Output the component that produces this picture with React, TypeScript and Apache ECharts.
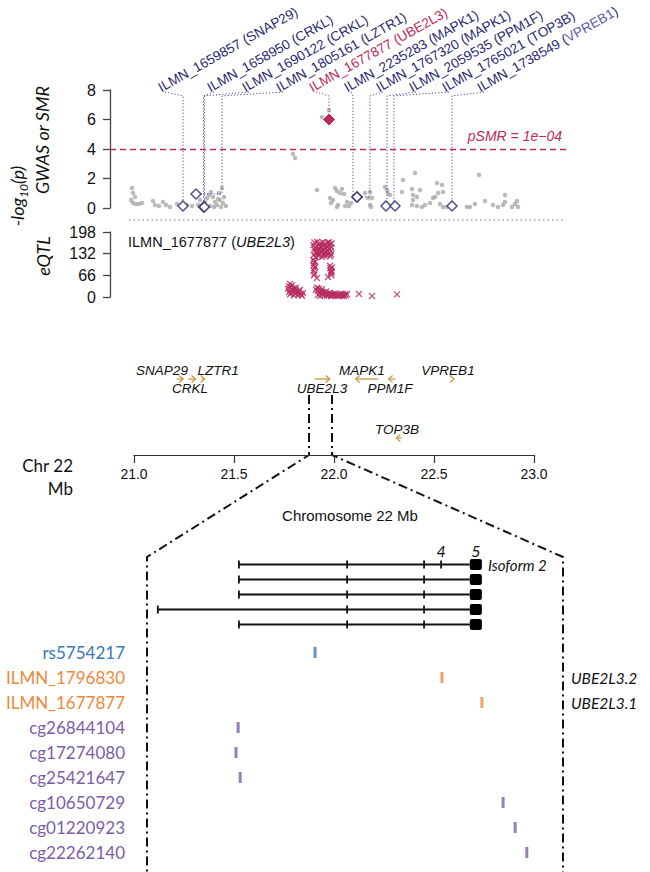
import React, { useEffect, useRef } from 'react';
import * as echarts from 'echarts';

const SANS = '"Liberation Sans", Arial, Helvetica, sans-serif';
const HUM = 'Lato, "Open Sans", sans-serif';
const NAVY = '#2a2970';
const CRIMSON = '#bb2a5a';
const GRAY = '#a9a9a9';
const GOLD = '#c99a45';

// ---------------- GWAS (-log10 p) points [Mb, value] ----------------
const gwasPoints: number[][] = [
  [20.99, 1.36], [20.995, 1.02], [21.005, 0.75], [20.985, 0.54], [20.995, 0.34], [21.01, 0.27], [21.025, 0.27], [21.04, 0.34],
  [21.095, 0.47], [21.105, 0.2], [21.125, 0.14], [21.145, 0.41], [21.16, 0.2], [21.18, 0.07], [21.215, 0.27],
  [21.265, 0.2], [21.29, 0.14], [21.32, 0.2], [21.33, 0.54], [21.34, 0.14], [21.355, 0.41], [21.365, 0.68], [21.375, 0.88],
  [21.385, 1.08], [21.395, 0.75], [21.405, 0.41], [21.415, 0.2], [21.425, 1.02], [21.43, 0.54], [21.435, 0.07], [21.44, 1.36],
  [21.445, 0.34], [21.46, 0.14], [21.38, 0.14], [21.4, 0.07], [21.42, 0.61], [21.45, 0.75],
  [21.795, 3.66], [21.805, 3.39], [21.94, 6.17], [21.975, 6.64], [21.915, 1.22],
  [21.98, 0.68], [21.985, 0.34], [21.995, 0.54], [22.005, 1.36], [22.015, 1.15], [22.03, 1.02], [22.04, 1.29], [22.05, 0.95],
  [22.015, 0.07], [22.065, 0.41], [22.075, 0.14], [22.085, 0.34], [22.055, 0.14], [22.02, 0.2],
  [22.155, 1.02], [22.17, 0.68], [22.18, 1.08], [22.19, 0.68], [22.185, 0.07], [22.18, 0.2],
  [22.255, 1.42], [22.265, 1.22], [22.27, 1.02], [22.28, 0.88], [22.345, 1.9], [22.34, 1.08], [22.405, 2.37], [22.39, 1.29],
  [22.395, 0.88], [22.415, 0.75], [22.43, 1.22], [22.395, 0.54], [22.39, 0.2], [22.415, 0.14], [22.44, 0.07], [22.455, 0.2],
  [22.48, 0.34], [22.495, 0.68], [22.505, 0.75], [22.515, 1.69], [22.52, 1.02], [22.54, 1.56], [22.545, 1.08], [22.53, 0.27],
  [22.545, 0.07], [22.565, 0.07], [22.665, 0.07], [22.68, 0.07], [22.705, 0.27], [22.725, 2.24], [22.755, 0.47], [22.795, 0.2],
  [22.82, 0.07], [22.845, 0.2], [22.855, 0.88], [22.855, 0.41], [22.89, 0.07], [22.905, 0.27], [22.915, 0.47], [22.92, 0.07],
];

// ---------------- SMR probes ----------------
const probeIds = ['ILMN_1659857', 'ILMN_1658950', 'ILMN_1690122', 'ILMN_1805161', 'ILMN_1677877',
  'ILMN_2235283', 'ILMN_1767320', 'ILMN_2059535', 'ILMN_1765021', 'ILMN_1738549'];
const probeGenes = ['SNAP29', 'CRKL', 'CRKL', 'LZTR1', 'UBE2L3', 'MAPK1', 'MAPK1', 'PPM1F', 'TOP3B', 'VPREB1'];
const probePos = [21.245, 21.348, 21.352, 21.31, 21.975, 22.115, 22.115, 22.26, 22.305, 22.59];
const probeSMR = [0.14, 0.07, 0.07, 0.95, 6.0, 0.75, 0.75, 0.14, 0.14, 0.14];
const probeLinePos = [21.245, 21.348, 21.352, 21.44, 21.975, 22.095, 22.18, 22.265, 22.3, 22.59];
const probeLabelPos = [21.15, 21.395, 21.57, 21.74, 21.905, 22.08, 22.24, 22.405, 22.57, 22.745];
const topProbe = 'ILMN_1677877';
const smrThreshold = 4; // -log10(1e-04)

// ---------------- eQTL (-log10 p) for ILMN_1677877 [Mb, value] ----------------
const eqtlPoints: number[][] = [
  [21.77, 25], [21.775, 33], [21.78, 40], [21.785, 30], [21.79, 22], [21.775, 15], [21.785, 12], [21.795, 18], [21.8, 26],
  [21.805, 10], [21.81, 20], [21.815, 14], [21.82, 6], [21.825, 16], [21.83, 22], [21.835, 9], [21.84, 4], [21.845, 12],
  [21.78, 8], [21.8, 5], [21.79, 36], [21.81, 28],
  [21.897, 158], [21.899, 128], [21.902, 166], [21.905, 143], [21.908, 121], [21.911, 152], [21.913, 134], [21.916, 168],
  [21.919, 140], [21.921, 125], [21.924, 160], [21.927, 147], [21.929, 131], [21.932, 164], [21.935, 153], [21.937, 138],
  [21.94, 122], [21.943, 167], [21.946, 145], [21.948, 130], [21.951, 157], [21.954, 136], [21.957, 162], [21.959, 149],
  [21.962, 127], [21.965, 141], [21.968, 165], [21.97, 154], [21.973, 133], [21.976, 146], [21.979, 160], [21.981, 124],
  [21.984, 139], [21.987, 151], [21.988, 163], [21.903, 150], [21.93, 155], [21.96, 136], [21.92, 132], [21.95, 126],
  [21.975, 167], [21.91, 137], [21.94, 143], [21.985, 130],
  [21.897, 112], [21.9, 104], [21.898, 96], [21.902, 88], [21.899, 80], [21.903, 72], [21.9, 66], [21.905, 108], [21.907, 92],
  [21.915, 58], [21.97, 61], [21.985, 73],
  [21.98, 95], [21.982, 88], [21.985, 80], [21.987, 66], [21.99, 90], [21.988, 76],
  [21.91, 22], [21.915, 28], [21.92, 18], [21.925, 25], [21.93, 12], [21.935, 20], [21.94, 8], [21.945, 15], [21.95, 5],
  [21.955, 12], [21.96, 9], [21.965, 4], [21.97, 10], [21.975, 6], [21.98, 12], [21.985, 3], [21.99, 8], [21.995, 5],
  [22.0, 10], [22.005, 4], [22.01, 9], [22.015, 6], [22.02, 3], [22.025, 8], [22.03, 5], [22.035, 10], [22.04, 4],
  [22.045, 7], [22.05, 3], [22.055, 8], [22.06, 5], [22.065, 9], [21.92, 7], [21.94, 24], [21.96, 17], [21.93, 3],
  [22.125, 9], [22.19, 3], [22.315, 8],
];
const eqtlProbe = 'ILMN_1677877';
const eqtlGene = 'UBE2L3';

// ---------------- genes (Mb) ----------------
const geneNames = ['SNAP29', 'CRKL', 'LZTR1', 'UBE2L3', 'MAPK1', 'PPM1F', 'TOP3B', 'VPREB1'];
const geneStart = [21.2133, 21.2717, 21.3366, 21.9037, 22.1088, 22.2731, 22.3114, 22.5991];
const geneEnd = [21.2455, 21.308, 21.3533, 21.9783, 22.222, 22.3072, 22.3383, 22.5998];
const geneStrand = [1, 1, 1, 1, -1, -1, -1, 1];
const geneRow = [0, 0, 0, 0, 0, 0, 1, 0];
const geneLabelPos = [21.14, 21.28, 21.42, 21.94, 22.14, 22.28, 22.315, 22.57];
const geneLabelSide = ['above', 'below', 'above', 'below', 'above', 'below', 'above', 'above'];
const zoomRegion = [21.875, 21.99];

// ---------------- UBE2L3 zoom (relative kb) ----------------
const isoformStart = [22.1, 22.1, 22.1, 2.6, 22.1];
const isoformExonTicks = [[48.1, 66.6, 70.7], [48.1, 66.6], [48.1, 66.6], [48.1, 66.6], [48.1, 66.6]];
const lastExon = [77.6, 80.5];
const isoformLabel = 'Isoform 2';
const exonNumbers = ['4', '5'];
const exonNumberPos = [70.7, 79.05];

const markerNames = ['rs5754217', 'ILMN_1796830', 'ILMN_1677877', 'cg26844104', 'cg17274080', 'cg25421647',
  'cg10650729', 'cg01220923', 'cg22262140'];
const markerPos = [40.4, 70.9, 80.5, 21.9, 21.4, 22.4, 85.6, 88.5, 91.3];
const markerType = ['snp', 'probe', 'probe', 'cpg', 'cpg', 'cpg', 'cpg', 'cpg', 'cpg'];
const markerTranscript = ['', 'UBE2L3.2', 'UBE2L3.1', '', '', '', '', '', ''];
const typeColor: Record<string, string> = { snp: '#3b78b5', probe: '#f0883a', cpg: '#7b5ea7' };

export default function App() {
  const ref = useRef<HTMLDivElement>(null);
  useEffect(() => {
    if (!ref.current) return;
    const chart = echarts.init(ref.current, null, { renderer: 'svg' });
    const hidden = { show: false };
    const yTick = {
      axisLine: { show: true, onZero: false, lineStyle: { color: '#444', width: 1.3 } },
      axisTick: { show: true, length: 7, lineStyle: { color: '#444', width: 1.3 } },
      axisLabel: { color: '#111', fontSize: 16, fontFamily: SANS, margin: 14 },
      splitLine: { show: false },
    };
    const option: any = {
      animation: false,
      grid: [
        { left: 110, top: 90, width: 458, height: 118 },
        { left: 110, top: 232, width: 458, height: 65 },
        { left: 134, top: 360, width: 400, height: 95 },
        { left: 147, top: 557, width: 416, height: 75 },
        { left: 147, top: 640, width: 416, height: 225 },
      ],
      xAxis: [
        { gridIndex: 0, type: 'value', min: 20.88, max: 23.17, ...hidden },
        { gridIndex: 1, type: 'value', min: 20.88, max: 23.17, ...hidden },
        {
          gridIndex: 2, type: 'value', min: 21, max: 23, interval: 0.5, position: 'bottom',
          axisLine: { show: true, onZero: false, lineStyle: { color: '#333', width: 1.2 } },
          axisTick: { show: true, length: 8, lineStyle: { color: '#333', width: 1.2 } },
          axisLabel: { color: '#111', fontSize: 14, fontFamily: SANS, margin: 12, formatter: (v: number) => v.toFixed(1) },
          splitLine: { show: false },
          name: 'Chromosome 22 Mb', nameLocation: 'middle', nameGap: 53,
          nameTextStyle: { color: '#111', fontSize: 15, fontFamily: SANS, padding: [0, 0, 0, 32] },
        },
        { gridIndex: 3, type: 'value', min: 0, max: 100, ...hidden },
        { gridIndex: 4, type: 'value', min: 0, max: 100, ...hidden },
      ],
      yAxis: [
        { gridIndex: 0, type: 'value', min: 0, max: 8, interval: 2, ...yTick },
        { gridIndex: 1, type: 'value', min: 0, max: 198, interval: 66, ...yTick },
        { gridIndex: 2, type: 'value', min: -0.322, max: 1.288, inverse: true, ...hidden },
        { gridIndex: 3, type: 'value', min: -0.5, max: 4.5, inverse: true, ...hidden },
        {
          gridIndex: 4, type: 'category', data: markerNames, inverse: true, position: 'left',
          axisLine: { show: false }, axisTick: { show: false }, splitLine: { show: false },
          axisLabel: {
            margin: 22, fontSize: 17, fontFamily: HUM,
            color: (v: string) => typeColor[markerType[markerNames.indexOf(v)]] || '#333',
          },
        },
        {
          gridIndex: 4, type: 'category', data: markerNames, inverse: true, position: 'right',
          axisLine: { show: false }, axisTick: { show: false }, splitLine: { show: false },
          axisLabel: {
            margin: 8, fontSize: 15.5, fontFamily: HUM, fontStyle: 'italic', color: '#111',
            formatter: (v: string) => markerTranscript[markerNames.indexOf(v)] || '',
          },
        },
      ],
      series: [
        {
          type: 'scatter', xAxisIndex: 0, yAxisIndex: 0, data: gwasPoints, symbol: 'circle', symbolSize: 4.5,
          itemStyle: { color: GRAY }, z: 2, silent: true,
          markLine: {
            silent: true, symbol: 'none', data: [{ yAxis: smrThreshold }],
            lineStyle: { color: CRIMSON, type: [6, 4], width: 1.3 },
            label: {
              show: true, position: 'insideEndTop', formatter: 'pSMR = 1e\u221204', color: CRIMSON,
              fontStyle: 'italic', fontSize: 14, fontFamily: SANS, distance: 6,
            },
          },
        },
        {
          type: 'custom', xAxisIndex: 0, yAxisIndex: 0, z: 3, silent: true,
          data: probeIds.map((_, i) => [probePos[i], probeSMR[i]]),
          renderItem: (params: any, api: any) => {
            const i = params.dataIndex;
            const [lx, ly] = api.coord([probeLabelPos[i], 8.0]);
            const [vx, vy] = api.coord([probeLinePos[i], 7.6]);
            const [bx, by] = api.coord([probeLinePos[i], probeSMR[i]]);
            const [dx, dy] = api.coord([probePos[i], probeSMR[i]]);
            const isTop = probeIds[i] === topProbe;
            const col = isTop ? CRIMSON : NAVY;
            const geneCol = isTop ? CRIMSON : probeGenes[i] === 'VPREB1' ? '#5b5ba6' : NAVY;
            return {
              type: 'group',
              children: [
                {
                  type: 'polyline',
                  shape: { points: [[lx + 1, ly + 2], [vx, vy], [bx, by], [dx, dy]] },
                  style: { stroke: isTop ? CRIMSON : '#4a4a98', lineWidth: 1, lineDash: [1.2, 2], fill: 'none' },
                },
                {
                  type: 'text', x: lx - 1, y: ly + 5, rotation: (29.5 * Math.PI) / 180,
                  style: {
                    text: `{a|${probeIds[i]} (}{g|${probeGenes[i]}}{a|)}`,
                    rich: {
                      a: { fill: col, fontSize: 13.6, fontFamily: SANS, lineHeight: 15 },
                      g: { fill: geneCol, fontSize: 13.6, fontFamily: SANS, lineHeight: 15 },
                    },
                    align: 'left', verticalAlign: 'bottom', textAlign: 'left', textVerticalAlign: 'bottom',
                  },
                },
              ],
            };
          },
        },
        {
          type: 'scatter', xAxisIndex: 0, yAxisIndex: 0, symbol: 'diamond', z: 4, silent: true,
          data: probeIds.map((id, i) => ({
            value: [probePos[i], probeSMR[i]],
            symbolSize: id === topProbe ? 11 : 10,
            itemStyle: id === topProbe
              ? { color: CRIMSON, borderColor: CRIMSON, borderWidth: 1, opacity: 1 }
              : { color: '#ffffff', borderColor: NAVY, borderWidth: 1.5 },
          })),
        },
        {
          type: 'scatter', xAxisIndex: 1, yAxisIndex: 1, data: eqtlPoints, silent: true,
          symbol: 'path://M0 0L10 10M10 0L0 10', symbolSize: 6,
          itemStyle: { color: 'rgba(0,0,0,0)', borderColor: '#b5285c', borderWidth: 1.3 },
        },
        {
          type: 'custom', xAxisIndex: 2, yAxisIndex: 2, silent: true,
          data: geneNames.map((_, i) => [geneStart[i], geneRow[i]]),
          renderItem: (params: any, api: any) => {
            const i = params.dataIndex;
            const [x1, y] = api.coord([geneStart[i], geneRow[i]]);
            const [x2] = api.coord([geneEnd[i], geneRow[i]]);
            const [lx] = api.coord([geneLabelPos[i], geneRow[i]]);
            const hx = geneStrand[i] > 0 ? x2 : x1;
            const d = geneStrand[i] > 0 ? -4 : 4;
            const children: any[] = [];
            if (x2 - x1 > 2) {
              children.push({ type: 'line', shape: { x1, y1: y, x2, y2: y }, style: { stroke: GOLD, lineWidth: 1.3 } });
            }
            children.push({
              type: 'polyline', shape: { points: [[hx + d, y - 3.5], [hx, y], [hx + d, y + 3.5]] },
              style: { stroke: GOLD, lineWidth: 1.3, fill: 'none' },
            });
            children.push({
              type: 'text', x: lx, y: y + (geneLabelSide[i] === 'above' ? -9 : 9),
              style: {
                text: geneNames[i], fill: '#111', fontSize: 13.5, fontFamily: SANS, fontStyle: 'italic',
                align: 'center', verticalAlign: 'middle', textAlign: 'center', textVerticalAlign: 'middle',
              },
            });
            return { type: 'group', children };
          },
        },
        {
          type: 'custom', xAxisIndex: 3, yAxisIndex: 3, silent: true,
          data: isoformStart.map((s, i) => [s, i]),
          renderItem: (params: any, api: any) => {
            const i = params.dataIndex;
            const [x0, y] = api.coord([isoformStart[i], i]);
            const [e0] = api.coord([lastExon[0], i]);
            const [e1] = api.coord([lastExon[1], i]);
            const children: any[] = [
              { type: 'line', shape: { x1: x0, y1: y, x2: e0, y2: y }, style: { stroke: '#111', lineWidth: 1.8 } },
            ];
            [isoformStart[i], ...isoformExonTicks[i]].forEach((t) => {
              const [tx] = api.coord([t, i]);
              children.push({ type: 'line', shape: { x1: tx, y1: y - 4, x2: tx, y2: y + 4 }, style: { stroke: '#111', lineWidth: 1.8 } });
            });
            children.push({ type: 'rect', shape: { x: e0, y: y - 5.5, width: e1 - e0, height: 11, r: 2 }, style: { fill: '#000' } });
            return { type: 'group', children };
          },
        },
        {
          type: 'scatter', xAxisIndex: 4, yAxisIndex: 4, symbol: 'rect', symbolSize: [3, 11], silent: true,
          data: markerNames.map((_, i) => ({ value: [markerPos[i], i], itemStyle: { color: typeColor[markerType[i]] } })),
        },
      ],
    };
    chart.setOption(option);

    const px = (finder: any, v: number[]) => chart.convertToPixel(finder, v) as unknown as number[];
    const g0 = { xAxisIndex: 0, yAxisIndex: 0 };
    const [sepL, y0] = px(g0, [20.975, 0]);
    const [sepR] = px(g0, [23.145, 0]);
    const g2 = { xAxisIndex: 2, yAxisIndex: 2 };
    const [zl, rowY] = px(g2, [zoomRegion[0], 0]);
    const [zr] = px(g2, [zoomRegion[1], 0]);
    const axisY = px(g2, [21, 1.288])[1];
    const [chrX] = px(g2, [21, 0]);
    const g3 = { xAxisIndex: 3, yAxisIndex: 3 };
    const [bl, by] = px(g3, [0, -0.5]);
    const [br] = px(g3, [100, -0.5]);
    const [, iso0Y] = px(g3, [0, 0]);
    const [exEnd] = px(g3, [lastExon[1], 0]);
    const H = chart.getHeight();
    const dashTop = rowY + 16;
    const dashStyle = { stroke: '#111', lineWidth: 2, lineDash: [9, 4, 2, 4], fill: 'none' };
    const txt = (x: number, y: number, text: string, extra: any = {}, rotation = 0) => ({
      type: 'text', x, y, rotation, silent: true,
      style: {
        text, fill: '#111', fontSize: 15, fontFamily: SANS, align: 'center', verticalAlign: 'middle',
        textAlign: 'center', textVerticalAlign: 'middle', ...extra,
      },
    });
    const graphic: any[] = [
      { type: 'line', silent: true, shape: { x1: sepL, y1: y0 + 12, x2: sepR, y2: y0 + 12 }, style: { stroke: '#777', lineWidth: 1.2, lineDash: [1.5, 3] } },
      { type: 'polyline', silent: true, shape: { points: [[zl, dashTop], [zl, axisY], [bl, by], [bl, H]] }, style: dashStyle },
      { type: 'polyline', silent: true, shape: { points: [[zr, dashTop], [zr, axisY], [br, by], [br, H]] }, style: dashStyle },
      txt(42, 140, 'GWAS or SMR', { fontFamily: HUM, fontStyle: 'italic', fontSize: 18 }, Math.PI / 2),
      txt(17, 196, '{a|-log}{s|10}{a|(p)}', {
        rich: {
          a: { fontFamily: HUM, fontStyle: 'italic', fontSize: 18, fill: '#111', lineHeight: 24, verticalAlign: 'middle' },
          s: { fontFamily: HUM, fontStyle: 'italic', fontSize: 12, fill: '#111', lineHeight: 24, verticalAlign: 'bottom' },
        },
      }, Math.PI / 2),
      txt(43, 256, 'eQTL', { fontFamily: HUM, fontStyle: 'italic', fontSize: 18 }, Math.PI / 2),
      txt(128, 242, `{a|${eqtlProbe} (}{i|${eqtlGene}}{a|)}`, {
        align: 'left', textAlign: 'left',
        rich: {
          a: { fontFamily: SANS, fontSize: 14.5, fill: '#111' },
          i: { fontFamily: SANS, fontSize: 14.5, fill: '#111', fontStyle: 'italic' },
        },
      }),
      txt(chrX - 61, axisY + 10, 'Chr 22', { fontFamily: HUM, fontSize: 17, align: 'right', textAlign: 'right' }),
      txt(chrX - 61, axisY + 33, 'Mb', { fontFamily: HUM, fontSize: 17, align: 'right', textAlign: 'right' }),
      txt(exEnd + 6, iso0Y, isoformLabel, { fontFamily: HUM, fontStyle: 'italic', fontSize: 15, align: 'left', textAlign: 'left' }),
      ...exonNumbers.map((n, k) => txt(px(g3, [exonNumberPos[k], 0])[0], iso0Y - 14, n, { fontFamily: HUM, fontStyle: 'italic', fontSize: 16 })),
    ];
    chart.setOption({ graphic });
    return () => chart.dispose();
  }, []);
  return <div ref={ref} style={{ position: 'absolute', left: 0, top: 0, width: 650, height: 872, background: '#fff' }} />;
}
